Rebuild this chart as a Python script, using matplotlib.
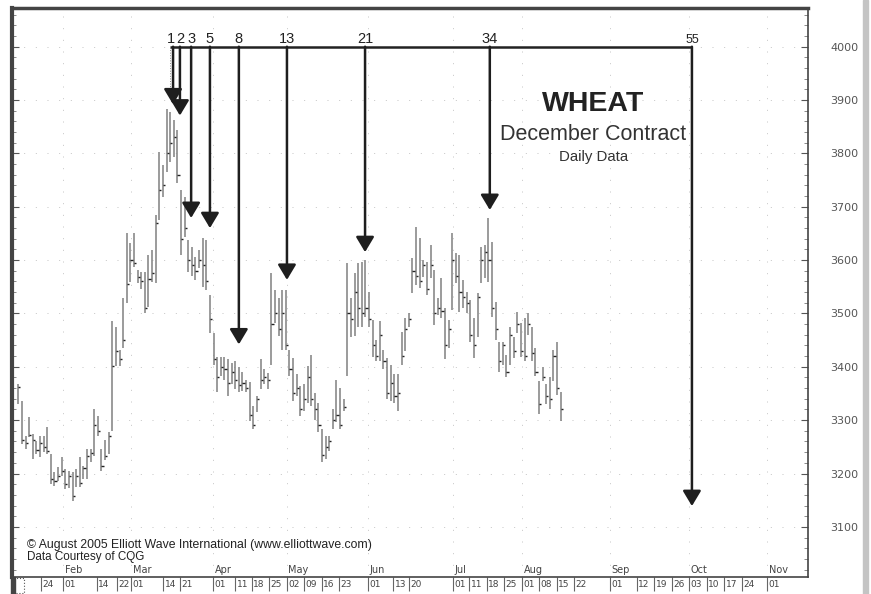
import matplotlib.pyplot as plt
from matplotlib.transforms import blended_transform_factory
from matplotlib.patches import Rectangle

plt.rcParams['font.family'] = ['Liberation Sans', 'DejaVu Sans']

# daily bars, one slot per weekday starting mid January
highs = [
    3367, 3335, 3270, 3305, 3274, 3261, 3270, 3270, 3287, 3236,
    3203, 3212, 3231, 3208, 3205, 3203, 3208, 3231, 3215, 3246,
    3246, 3320, 3307, 3246, 3262, 3277, 3485, 3475, 3432, 3529,
    3651, 3632, 3651, 3582, 3578, 3578, 3610, 3619, 3684, 3802,
    3778, 3884, 3877, 3862, 3843, 3731, 3718, 3638, 3625, 3606,
    3619, 3641, 3638, 3535, 3464, 3419, 3419, 3419, 3414, 3408,
    3410, 3399, 3390, 3376, 3371, 3326, 3345, 3414, 3395, 3389,
    3576, 3544, 3529, 3544, 3544, 3432, 3417, 3386, 3364, 3367,
    3401, 3423, 3350, 3333, 3283, 3270, 3270, 3320, 3376, 3361,
    3339, 3595, 3529, 3576, 3595, 3597, 3600, 3541, 3488, 3451,
    3485, 3432, 3417, 3404, 3386, 3386, 3466, 3492, 3501, 3604,
    3662, 3641, 3600, 3597, 3628, 3582, 3529, 3567, 3511, 3488,
    3651, 3613, 3610, 3563, 3541, 3526, 3492, 3539, 3625, 3628,
    3679, 3634, 3522, 3446, 3447, 3423, 3475, 3455, 3503, 3483,
    3492, 3501, 3475, 3436, 3373, 3399, 3367, 3380, 3432, 3447,
    3352,
]
lows = [
    3330, 3255, 3246, 3268, 3227, 3236, 3231, 3240, 3236, 3180,
    3177, 3186, 3195, 3171, 3172, 3149, 3175, 3175, 3190, 3190,
    3222, 3233, 3270, 3205, 3225, 3236, 3279, 3401, 3401, 3436,
    3520, 3559, 3587, 3557, 3545, 3501, 3513, 3559, 3557, 3675,
    3718, 3765, 3783, 3793, 3744, 3610, 3643, 3578, 3570, 3563,
    3586, 3550, 3544, 3464, 3404, 3352, 3382, 3376, 3345, 3367,
    3358, 3352, 3355, 3352, 3298, 3283, 3315, 3358, 3367, 3358,
    3404, 3483, 3457, 3432, 3432, 3382, 3335, 3345, 3307, 3317,
    3333, 3326, 3300, 3277, 3222, 3227, 3242, 3283, 3296, 3283,
    3317, 3382, 3455, 3457, 3475, 3475, 3494, 3475, 3419, 3410,
    3410, 3395, 3339, 3335, 3333, 3317, 3404, 3429, 3475, 3539,
    3554, 3548, 3569, 3535, 3567, 3479, 3498, 3492, 3414, 3436,
    3507, 3557, 3503, 3511, 3501, 3447, 3417, 3455, 3557, 3567,
    3559, 3494, 3451, 3391, 3404, 3380, 3404, 3417, 3464, 3419,
    3410, 3460, 3410, 3382, 3311, 3373, 3330, 3320, 3373, 3348,
    3298,
]
closes = [
    3362, 3262, 3258, 3272, 3262, 3245, 3258, 3250, 3242, 3190,
    3186, 3195, 3205, 3180, 3195, 3158, 3196, 3182, 3210, 3232,
    3238, 3290, 3280, 3215, 3232, 3270, 3401, 3430, 3415, 3450,
    3555, 3600, 3595, 3568, 3560, 3510, 3565, 3575, 3670, 3731,
    3740, 3800, 3820, 3830, 3760, 3640, 3660, 3600, 3590, 3580,
    3600, 3590, 3560, 3490, 3415, 3380, 3400, 3395, 3370, 3390,
    3375, 3365, 3370, 3360, 3310, 3290, 3340, 3375, 3380, 3375,
    3480, 3500, 3470, 3500, 3440, 3395, 3350, 3360, 3320, 3340,
    3380, 3340, 3320, 3290, 3235, 3250, 3260, 3300, 3310, 3290,
    3325, 3500, 3490, 3540, 3510, 3500, 3510, 3490, 3440, 3420,
    3460, 3410, 3350, 3370, 3345, 3350, 3420, 3470, 3490, 3580,
    3570, 3560, 3590, 3545, 3590, 3500, 3510, 3505, 3440, 3470,
    3600, 3570, 3540, 3530, 3520, 3460, 3440, 3530, 3600, 3615,
    3600, 3510, 3470, 3410, 3440, 3390, 3460, 3430, 3480, 3430,
    3420, 3480, 3425, 3390, 3330, 3380, 3345, 3340, 3420, 3360,
    3320,
]
slots = list(range(len(highs)))

# date axis: slot position of each labelled day
day_ticks = [6.2, 12.4, 21.7, 27.2, 31.2, 40.0, 44.7, 53.8, 59.9, 64.5,
             69.3, 74.2, 79.0, 83.9, 88.7, 96.7, 103.6, 108.0, 120.1, 124.7,
             129.5, 134.3, 139.2, 144.0, 148.9, 153.7, 163.6, 171.0, 175.8, 180.7,
             185.5, 190.4, 195.2, 200.1, 207.0]
day_labels = ['24', '01', '14', '22', '01', '14', '21', '01', '11', '18',
              '25', '02', '09', '16', '23', '01', '13', '20', '01', '11',
              '18', '25', '01', '08', '15', '22', '01', '12', '19', '26',
              '03', '10', '17', '24', '01']
month_labels = ['Feb', 'Mar', 'Apr', 'May', 'Jun', 'Jul', 'Aug', 'Sep', 'Oct', 'Nov']
month_start = [1, 4, 7, 11, 15, 18, 22, 26, 30, 34]

# Fibonacci time count
fib_counts = [1, 2, 3, 5, 8, 13, 21, 34, 55]
fib_x = [42.8, 44.7, 47.8, 53.0, 61.0, 74.3, 95.9, 130.4, 186.3]
fib_tip = [3892, 3871, 3679, 3660, 3442, 3563, 3615, 3694, 3139]
fib_level = 4000
fib_start = 41.95

fig = plt.figure(figsize=(8.71, 5.94), dpi=100)
ax = fig.add_axes([12 / 871, 17 / 594, 796 / 871, 569 / 594])
ax.set_xlim(-1.74, 218.4)
ax.set_ylim(3006, 4072.6)

# faint, sparse dotted grid
for lv in range(3100, 4001, 100):
    ax.axhline(lv, color='#c4c4c4', lw=0.7, ls=(0, (1, 11)), zorder=0)
for m in month_start:
    ax.axvline(day_ticks[m], color='#c4c4c4', lw=0.7, ls=(0, (1, 11)), zorder=0)

# price bars
ax.vlines(slots, lows, highs, colors='#808080', lw=1.1, zorder=2)
ax.hlines(closes, [s for s in slots], [s + 0.6 for s in slots],
          colors='#222222', lw=1.0, zorder=3)

# arrows
ax.plot([fib_start, fib_x[-1]], [fib_level, fib_level], color='#222222',
        lw=1.8, solid_capstyle='butt', zorder=4)
ax.plot([fib_start, fib_start], [fib_level, 3905], color='#888888', lw=0.7,
        ls=':', zorder=4)
for n, x, tip in zip(fib_counts, fib_x, fib_tip):
    ax.annotate('', xy=(x, tip), xytext=(x, fib_level),
                arrowprops=dict(arrowstyle='-|>,head_length=0.4,head_width=0.24',
                                mutation_scale=23, lw=1.8, color='#1e1e1e',
                                shrinkA=0, shrinkB=0), zorder=5)
    ax.annotate(str(n), xy=(x, fib_level), xytext=(-1.6 if n == 1 else 0, 2.5),
                textcoords='offset points', ha='center', va='baseline',
                fontsize=9 if n == 55 else 10.5, color='#222222')

# titles
ax.text(0.73, 0.832, 'WHEAT', transform=ax.transAxes, ha='center', va='center',
        fontsize=20.5, fontweight='bold', color='#222222')
ax.text(0.73, 0.778, 'December Contract', transform=ax.transAxes, ha='center',
        va='center', fontsize=15.5, color='#333333')
ax.text(0.73, 0.738, 'Daily Data', transform=ax.transAxes, ha='center',
        va='center', fontsize=10.8, color='#333333')
ax.text(0.0188, 0.056, '\u00a9 August 2005 Elliott Wave International (www.elliottwave.com)',
        transform=ax.transAxes, ha='left', va='center', fontsize=8.8, color='#222222')
ax.text(0.0188, 0.035, 'Data Courtesy of CQG', transform=ax.transAxes,
        ha='left', va='center', fontsize=8.4, color='#222222')

# date axis drawn by hand
trans = blended_transform_factory(ax.transData, ax.transAxes)
ax.set_xticks([])
ax.vlines(day_ticks, -0.024, 0, transform=trans, colors='#666666', lw=0.8,
          clip_on=False)
for x, lab in zip(day_ticks, day_labels):
    ax.text(x + 0.45, -0.0125, lab, transform=trans, ha='left', va='center',
            fontsize=6.5, color='#444444', family='DejaVu Sans', clip_on=False)
for m, lab in zip(month_start, month_labels):
    ax.text(day_ticks[m] + 0.5, 0.0125, lab, transform=trans, ha='left',
            va='center', fontsize=7, color='#444444', family='DejaVu Sans')

# price axis on the right
ax.yaxis.tick_right()
ax.set_yticks(range(3100, 4001, 100))
ax.set_yticks(range(3020, 4071, 20), minor=True)
ax.tick_params(axis='y', which='major', direction='in', length=5, pad=15.8,
               labelsize=8, labelcolor='#555555', color='#555555')
ax.tick_params(axis='y', which='minor', direction='in', length=3, color='#777777')
ax.tick_params(axis='y', which='both', left=True)
for lab in ax.get_yticklabels():
    lab.set_family('DejaVu Sans')

for side, lw in [('left', 3.0), ('top', 2.5), ('right', 1.2), ('bottom', 1.2)]:
    ax.spines[side].set_linewidth(lw)
    ax.spines[side].set_color('#444444')

# corner box and right border strip
fig.patches.append(Rectangle((13 / 871, 1 / 594), 11 / 871, 15 / 594,
                             transform=fig.transFigure, fill=False,
                             ls=':', lw=0.8, ec='#555555'))
fig.patches.append(Rectangle((11 / 871, 0), 4 / 871, 17 / 594,
                             transform=fig.transFigure, color='#444444'))
fig.patches.append(Rectangle((863 / 871, 0), 5 / 871, 1,
                             transform=fig.transFigure, color='#c4c4c4'))

fig.savefig('out.png', dpi=100)
